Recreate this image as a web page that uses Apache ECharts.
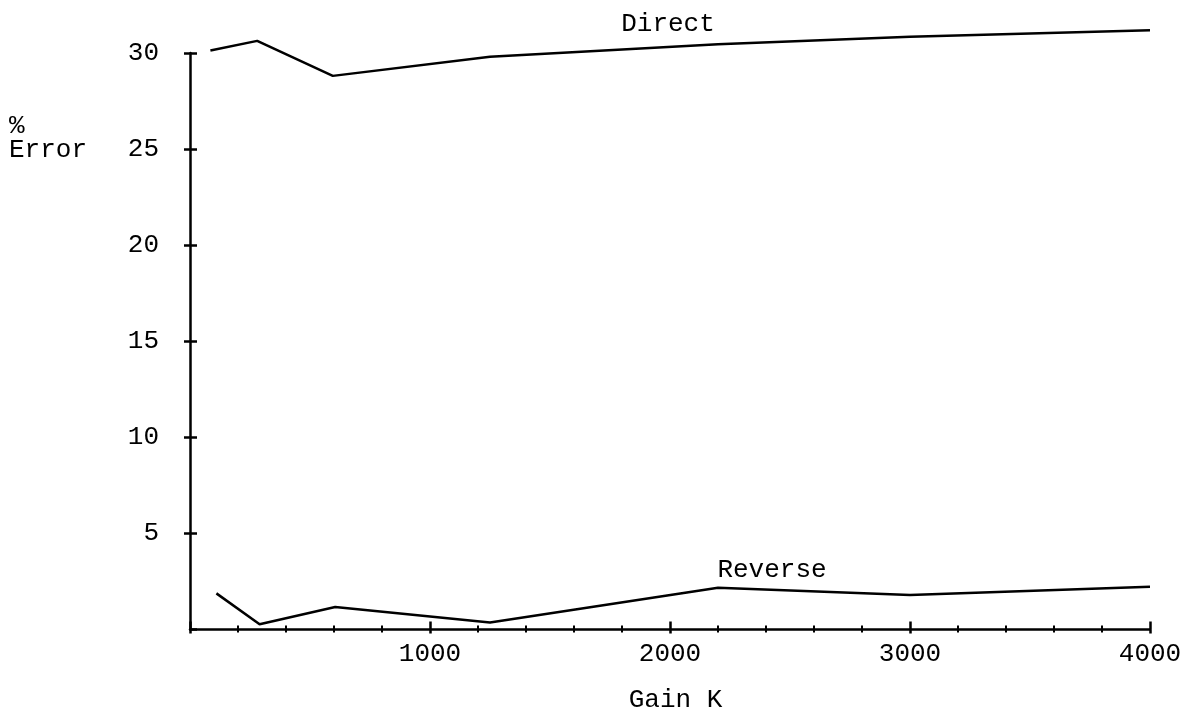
<!DOCTYPE html>
<html>
<head>
<meta charset="utf-8">
<script src="https://cdn.jsdelivr.net/npm/echarts@6/dist/echarts.min.js"></script>
<style>
  html, body { margin: 0; padding: 0; background: #fff; }
  #chart { width: 1191px; height: 711px; }
</style>
</head>
<body>
<div id="chart"></div>
<script>
// ---- Data ----
const directGain   = [85, 280, 595, 1250, 2200, 3000, 4000];
const directError  = [30.13, 30.63, 28.81, 29.8, 30.46, 30.85, 31.19];
const reverseGain  = [110, 290, 605, 1250, 2200, 3000, 4000];
const reverseError = [1.88, 0.27, 1.17, 0.37, 2.17, 1.80, 2.23];

const xTicks = { min: 0, max: 4000, interval: 1000 };
const yTicks = { min: 0, max: 30, interval: 5 };
const yTickValues = [5, 10, 15, 20, 25, 30];

const seriesNames = ['Direct', 'Reverse'];
const xAxisTitle = 'Gain K';
const yAxisTitleTop = '%';
const yAxisTitleBottom = 'Error';

// ---- Chart ----
const FONT = "'Liberation Mono', 'DejaVu Sans Mono', monospace";
const INK = '#000';
const zip = (xs, ys) => xs.map((x, i) => [x, ys[i]]);
const hideZero = v => (v === 0 ? '' : String(v));

const chart = echarts.init(document.getElementById('chart'), null, { renderer: 'canvas' });

const baseX = {
  type: 'value', min: xTicks.min, max: xTicks.max, interval: xTicks.interval,
  position: 'bottom', splitLine: { show: false }
};
const baseY = {
  type: 'value', min: yTicks.min, max: yTicks.max, interval: yTicks.interval,
  position: 'left', splitLine: { show: false }
};

const option = {
  animation: false,
  backgroundColor: '#fff',
  grid: { left: 190, right: 41, top: 53, bottom: 81.5, containLabel: false, outerBoundsMode: 'none' },
  xAxis: [
    Object.assign({}, baseX, {
      axisLine: { onZero: false, lineStyle: { color: INK, width: 2.5 } },
      axisTick: { inside: true, length: 8, lineStyle: { color: INK, width: 2.5 } },
      minorTick: { show: true, splitNumber: 5, length: 4, lineStyle: { color: INK, width: 2 } },
      axisLabel: { margin: 12, fontFamily: FONT, fontSize: 26, color: INK, formatter: hideZero },
      name: xAxisTitle, nameLocation: 'middle', nameGap: 58,
      nameTextStyle: { fontFamily: FONT, fontSize: 26, color: INK, padding: [0, 0, 0, 11] }
    }),
    Object.assign({}, baseX, {
      axisLine: { show: false, onZero: false },
      axisTick: { inside: false, length: 4, lineStyle: { color: INK, width: 2.5 } },
      minorTick: { show: true, splitNumber: 5, length: 3, lineStyle: { color: INK, width: 2 } },
      axisLabel: { show: false }
    })
  ],
  yAxis: [
    Object.assign({}, baseY, {
      axisLine: { onZero: false, lineStyle: { color: INK, width: 2.5 } },
      axisTick: { inside: false, length: 6, customValues: yTickValues, lineStyle: { color: INK, width: 2.5 } },
      axisLabel: { margin: 31, fontFamily: FONT, fontSize: 26, color: INK, formatter: hideZero }
    }),
    Object.assign({}, baseY, {
      axisLine: { show: false, onZero: false },
      axisTick: { inside: true, length: 7, lineStyle: { color: INK, width: 2.5 } },
      axisLabel: { show: false }
    })
  ],
  series: [
    {
      name: seriesNames[0], type: 'line', data: zip(directGain, directError),
      symbol: 'none', clip: false, lineStyle: { color: INK, width: 2.5 }
    },
    {
      name: seriesNames[1], type: 'line', data: zip(reverseGain, reverseError),
      symbol: 'none', clip: false, lineStyle: { color: INK, width: 2.5 }
    }
  ],
  graphic: [
    { type: 'text', style: { text: seriesNames[0], x: 668, y: 24, textAlign: 'center', textVerticalAlign: 'middle', font: "26px " + FONT, fill: INK } },
    { type: 'text', style: { text: seriesNames[1], x: 772, y: 570, textAlign: 'center', textVerticalAlign: 'middle', font: "26px " + FONT, fill: INK } },
    { type: 'text', style: { text: yAxisTitleTop, x: 9, y: 126, textAlign: 'left', textVerticalAlign: 'middle', font: "26px " + FONT, fill: INK } },
    { type: 'text', style: { text: yAxisTitleBottom, x: 9, y: 150.5, textAlign: 'left', textVerticalAlign: 'middle', font: "26px " + FONT, fill: INK } }
  ]
};

chart.setOption(option);
</script>
</body>
</html>
